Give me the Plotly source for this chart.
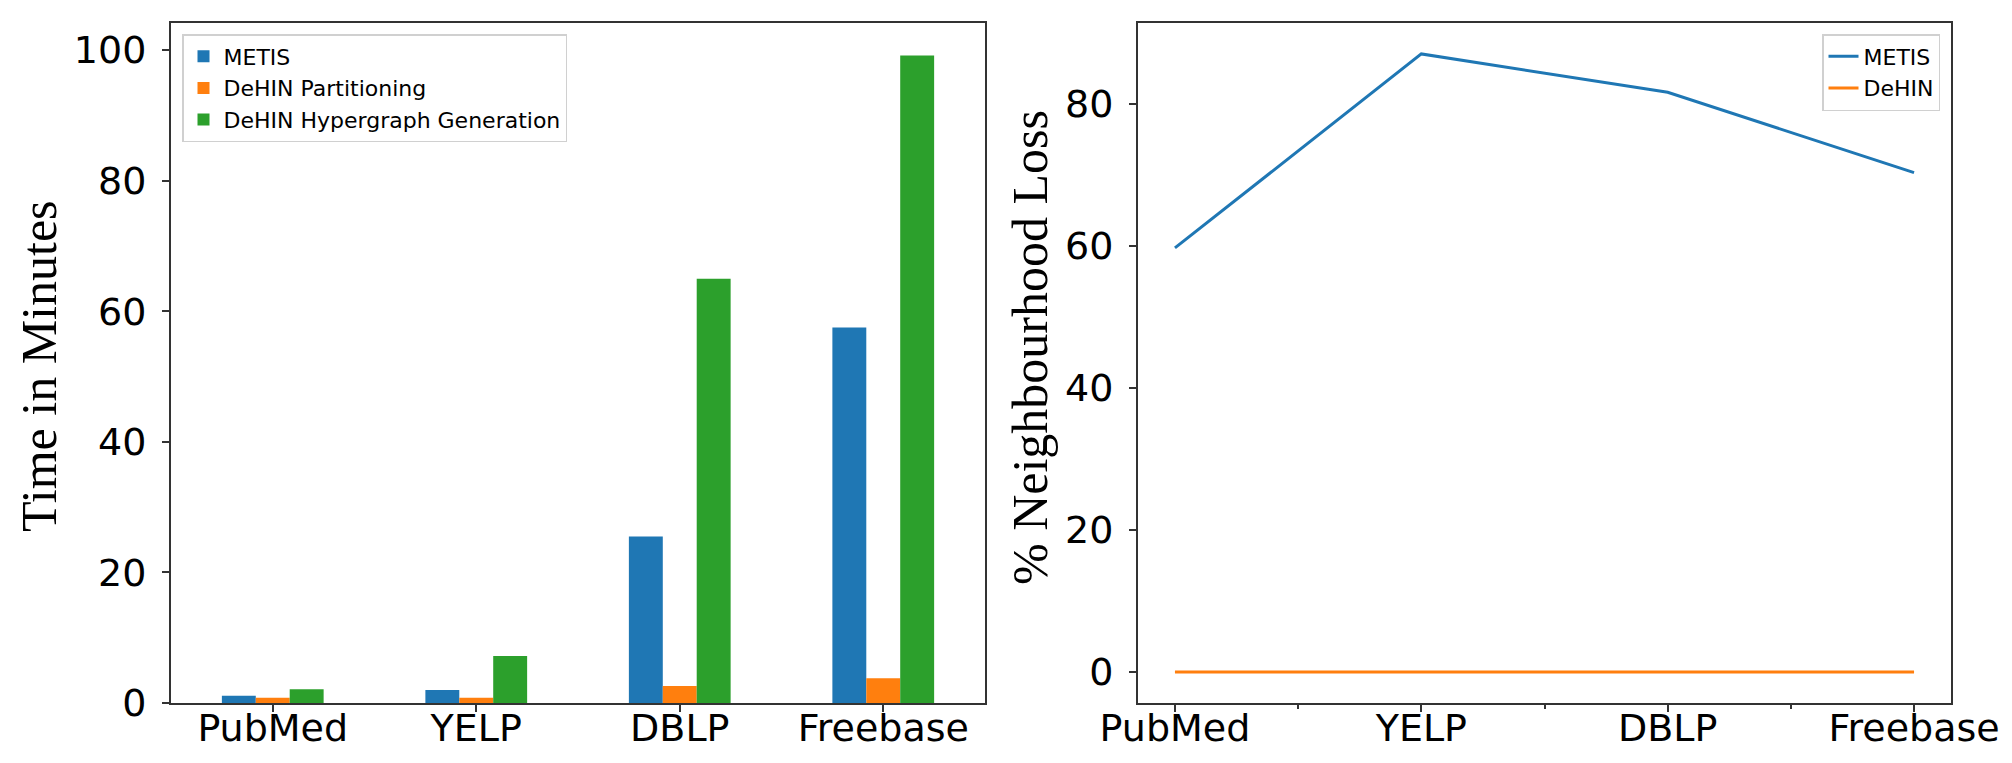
import plotly.graph_objects as go

# data
datasets = ["PubMed", "YELP", "DBLP", "Freebase"]

metis_time = [1.1, 2.0, 25.5, 57.5]
dehin_partition_time = [0.8, 0.8, 2.6, 3.8]
dehin_hypergraph_time = [2.1, 7.2, 65.0, 99.2]

metis_loss = [59.7, 87.0, 81.6, 70.3]
dehin_loss = [0.0, 0.0, 0.0, 0.0]

time_ticks = [0, 20, 40, 60, 80, 100]
loss_ticks = [0, 20, 40, 60, 80]

BLUE = "#1f77b4"
ORANGE = "#ff7f0e"
GREEN = "#2ca02c"
TICK_FONT = dict(family="DejaVu Sans", size=38, color="black")
TITLE_FONT = dict(family="Liberation Serif", size=50, color="black")
LEGEND_FONT = dict(family="DejaVu Sans", size=22, color="black")

W, H = 2012, 763

fig = go.Figure()

# ─────────────────────────────────────────────
# left panel: run time bars
for name, vals, col in [
    ("METIS", metis_time, BLUE),
    ("DeHIN Partitioning", dehin_partition_time, ORANGE),
    ("DeHIN Hypergraph Generation", dehin_hypergraph_time, GREEN),
]:
    fig.add_trace(go.Bar(
        x=datasets, y=vals, name=name,
        marker=dict(color=col, line=dict(width=0)),
        xaxis="x", yaxis="y", legend="legend",
    ))

# ─────────────────────────────────────────────
# right panel: neighbourhood loss lines
x_idx = list(range(len(datasets)))
fig.add_trace(go.Scatter(
    x=x_idx, y=metis_loss, name="METIS", mode="lines",
    line=dict(color=BLUE, width=3),
    xaxis="x2", yaxis="y2", legend="legend2",
))
fig.add_trace(go.Scatter(
    x=x_idx, y=dehin_loss, name="DeHIN", mode="lines",
    line=dict(color=ORANGE, width=3),
    xaxis="x2", yaxis="y2", legend="legend2",
))

axis_common = dict(
    showline=True, mirror=True, linecolor="#333333", linewidth=2,
    ticks="outside", ticklen=7, tickwidth=1.5, tickcolor="#333333",
    showgrid=False, zeroline=False, tickfont=TICK_FONT, automargin=False,
)
x_common = dict(ticklabelstandoff=-17, **axis_common)
y_common = dict(ticklabelstandoff=8, **axis_common)

top = max(dehin_hypergraph_time) * 1.05
lo2 = -max(metis_loss) * 0.05
hi2 = max(metis_loss) * 1.05

fig.update_layout(
    width=W, height=H,
    margin=dict(l=0, r=0, t=0, b=0),
    paper_bgcolor="white", plot_bgcolor="white",
    barmode="group", bargap=0.5, bargroupgap=0,
    xaxis=dict(domain=[163 / W, 977 / W], anchor="y",
               range=[-0.5, len(datasets) - 0.5], **x_common),
    yaxis=dict(domain=[1 - 695 / H, 1 - 15 / H], anchor="x",
               range=[0, top], tickvals=time_ticks, **y_common),
    xaxis2=dict(domain=[1130 / W, 1943 / W], anchor="y2",
                range=[-0.15, len(datasets) - 1 + 0.15],
                tickvals=x_idx, ticktext=datasets,
                minor=dict(ticks="outside", ticklen=4, tickcolor="#333333",
                           tick0=0, dtick=0.5),
                **x_common),
    yaxis2=dict(domain=[1 - 695 / H, 1 - 15 / H], anchor="x2",
                range=[lo2, hi2], tickvals=loss_ticks, **y_common),
    legend=dict(x=174 / W, y=1 - 26 / H, xanchor="left", yanchor="top",
                font=LEGEND_FONT, bgcolor="rgba(255,255,255,0.8)",
                bordercolor="#d0d0d0", borderwidth=1.5),
    legend2=dict(x=1932 / W, y=1 - 26 / H, xanchor="right", yanchor="top",
                 font=LEGEND_FONT, bgcolor="rgba(255,255,255,0.8)",
                 bordercolor="#d0d0d0", borderwidth=1.5),
    annotations=[
        dict(text="Time in Minutes", xref="paper", yref="paper",
             x=31 / W, y=1 - 358 / H, xanchor="center", yanchor="middle",
             textangle=-90, showarrow=False, font=TITLE_FONT),
        dict(text="% Neighbourhood Loss", xref="paper", yref="paper",
             x=1022 / W, y=1 - 340 / H, xanchor="center", yanchor="middle",
             textangle=-90, showarrow=False, font=TITLE_FONT),
    ],
)

fig.write_html("out.html")
